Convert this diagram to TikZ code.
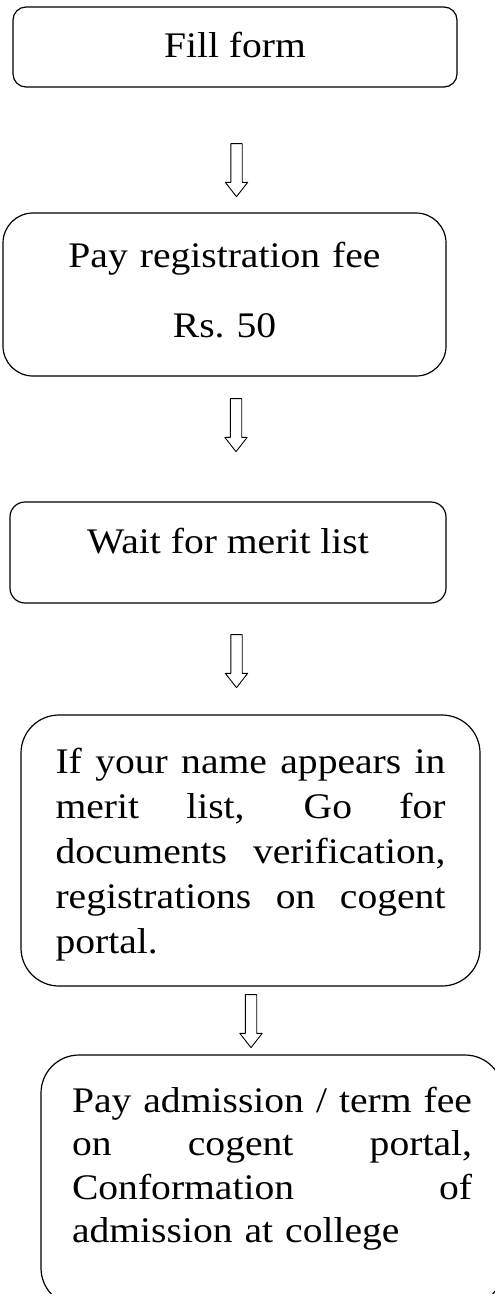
\documentclass[tikz,border=0pt]{standalone}
\usepackage{fontspec}
\setmainfont{Liberation Serif}[FakeStretch=1.1]
\usepackage{tikz}
\usetikzlibrary{shapes.arrows}

\newcommand{\jline}[2]{\leavevmode\hbox to #1{\spaceskip=0pt plus 1fil\relax #2}}

\begin{document}
\begin{tikzpicture}
		[x=1pt,y=-1pt,line join=round,
		%Styles
		flowbox/.style={draw,line width=1.2pt,rounded corners=#1,inner sep=0pt,font=\fontsize{36}{43}\selectfont},
		downarrow/.style={single arrow,draw,fill=white,line width=0.9pt,shape border rotate=270,inner sep=5.25pt,
			minimum height=#1,single arrow head extend=5.5pt,single arrow tip angle=76}
		]
		
		%Page
		\clip (0,0) rectangle (495,1294);
		
		%The graphic
		\node[flowbox=13pt,minimum width=444pt,minimum height=80pt,text height=35pt,text depth=15pt] (fill) at (235,47) {Fill form};
		
		\node[flowbox=30pt,minimum width=443pt,minimum height=163pt,text width=443pt,align=center,
			font=\fontsize{36}{70}\selectfont,text height=5pt,text depth=60pt] (regfee) at (224.5,294.5)
			{Pay registration fee\\Rs.\ 50};
		
		\node[flowbox=15pt,minimum width=436pt,minimum height=101pt,text height=25pt,text depth=24pt] (merit) at (228,552.5) {Wait for merit list};
		
		\node[flowbox=38pt,minimum width=459pt,minimum height=271pt,text width=390pt,align=left,
			font=\fontsize{36}{45}\selectfont,text height=5pt,text depth=160pt] (verify) at (250.5,850.5)
			{\jline{390pt}{If your name appears in}\\
			\jline{390pt}{merit list, Go for}\\
			\jline{390pt}{documents verification,}\\
			\jline{390pt}{registrations on cogent}\\
			portal.};
		
		\node[flowbox=38pt,minimum width=462pt,minimum height=251pt,text width=400pt,align=left,
			font=\fontsize{36}{43.5}\selectfont,text height=3pt,text depth=140pt] (admit) at (272,1180.5)
			{\jline{400pt}{Pay admission / term fee}\\
			\jline{400pt}{on cogent portal,}\\
			\jline{400pt}{Conformation of}\\
			admission at college};
		
		%Arrows
		\node[downarrow=53pt] (a1) at (236.5,166.5) {};
		\node[downarrow=53pt] (a2) at (236,421.5) {};
		\node[downarrow=53pt] (a3) at (236.5,657.5) {};
		\node[downarrow=53pt] (a4) at (251,1017.5) {};
	\end{tikzpicture}
\end{document}
